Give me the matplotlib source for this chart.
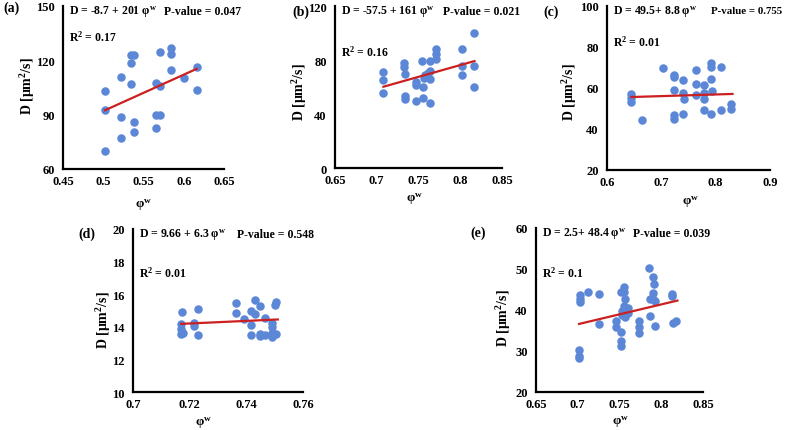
import matplotlib
matplotlib.use('Agg')
import matplotlib.pyplot as plt

plt.rcParams['font.family'] = ['Liberation Serif', 'DejaVu Serif']
plt.rcParams['font.weight'] = 'bold'
plt.rcParams['mathtext.fontset'] = 'custom'
plt.rcParams['mathtext.bf'] = 'Liberation Serif:bold'
plt.rcParams['mathtext.rm'] = 'Liberation Serif:bold'
plt.rcParams['mathtext.it'] = 'Liberation Serif:bold'
plt.rcParams['mathtext.default'] = 'bf'

# ---- data ----
# (a)
a_x = [0.502, 0.502, 0.502, 0.522, 0.522, 0.522, 0.534, 0.538, 0.534, 0.534,
       0.538, 0.538, 0.570, 0.566, 0.571, 0.566, 0.570, 0.566, 0.584, 0.584,
       0.584, 0.600, 0.616, 0.616]
a_y = [102.8, 92.8, 70.0, 110.7, 88.8, 77.0, 122.8, 122.8, 118.7, 106.8,
       85.7, 80.3, 124.6, 107.7, 105.9, 89.9, 89.7, 82.5, 126.7, 123.5,
       114.7, 110.0, 116.2, 103.7]
a_trend_x = [0.502, 0.616]
a_trend_y = [92.4, 115.3]

# (b)
b_x = [0.707, 0.707, 0.707, 0.733, 0.733, 0.734, 0.734, 0.734, 0.747, 0.747,
       0.747, 0.754, 0.755, 0.755, 0.757, 0.758, 0.764, 0.764, 0.764, 0.764,
       0.771, 0.771, 0.771, 0.802, 0.802, 0.802, 0.816, 0.816, 0.816, 0.761]
b_y = [71.3, 65.4, 55.3, 77.5, 74.5, 69.6, 53.6, 51.2, 49.4, 63.4,
       61.5, 79.4, 59.8, 51.6, 66.4, 68.9, 79.4, 72.0, 65.9, 48.2,
       88.0, 84.3, 80.7, 88.0, 75.7, 68.9, 99.8, 75.7, 59.8, 70.5]
b_trend_x = [0.708, 0.817]
b_trend_y = [60.2, 79.2]

# (c)
c_x = [0.645, 0.645, 0.645, 0.665, 0.703, 0.723, 0.723, 0.724, 0.723, 0.723,
       0.739, 0.739, 0.742, 0.740, 0.764, 0.764, 0.764, 0.778, 0.779, 0.778,
       0.778, 0.791, 0.792, 0.791, 0.793, 0.791, 0.810, 0.810, 0.828, 0.828]
c_y = [57.2, 55.3, 53.2, 44.4, 69.9, 66.2, 65.2, 58.9, 46.8, 45.0,
       63.9, 57.7, 54.8, 47.5, 68.8, 61.8, 56.4, 57.4, 61.3, 54.8,
       49.1, 72.0, 70.1, 64.2, 58.4, 47.2, 70.1, 49.3, 52.0, 49.6]
c_trend_x = [0.645, 0.831]
c_trend_y = [55.6, 57.1]

# (d)
d_x = [0.7173, 0.7168, 0.7170, 0.7170, 0.7176, 0.7214, 0.7214, 0.7228, 0.7229, 0.7364,
       0.7364, 0.7390, 0.7418, 0.7418, 0.7418, 0.7432, 0.7432, 0.7448, 0.7448, 0.7448,
       0.7465, 0.7465, 0.7491, 0.7491, 0.7491, 0.7491, 0.7505, 0.7500, 0.7506]
d_y = [14.92, 14.16, 13.85, 13.55, 13.65, 14.26, 14.06, 15.08, 13.48, 15.43,
       14.84, 14.47, 14.98, 14.10, 13.52, 15.63, 14.78, 15.29, 13.55, 13.45,
       14.51, 13.48, 14.26, 13.96, 13.65, 13.36, 13.55, 15.35, 15.53]
d_trend_x = [0.717, 0.7511]
d_trend_y = [14.18, 14.45]

# (e)
e_x = [0.7016, 0.7016, 0.702, 0.703, 0.703, 0.703, 0.712, 0.726, 0.726, 0.746,
       0.746, 0.752, 0.752, 0.752, 0.752, 0.755, 0.755, 0.753, 0.753, 0.755,
       0.756, 0.758, 0.760, 0.760, 0.756, 0.773, 0.773, 0.773, 0.785, 0.786,
       0.786, 0.790, 0.791, 0.790, 0.790, 0.793, 0.792, 0.813, 0.813, 0.814,
       0.818]
e_y = [30.3, 28.8, 28.2, 43.7, 42.7, 41.9, 44.3, 43.8, 36.6, 37.4,
       35.8, 34.7, 32.5, 31.3, 44.5, 45.6, 44.3, 39.8, 38.8, 41.0,
       42.7, 40.2, 40.6, 39.3, 38.2, 37.2, 35.8, 34.4, 50.2, 38.6,
       42.7, 48.0, 46.4, 44.2, 42.7, 42.3, 36.0, 43.9, 43.4, 36.9,
       37.2]
e_trend_x = [0.7016, 0.8194]
e_trend_y = [36.6, 42.3]

panels = [
    # label, x, y, trend x, trend y, xticks, yticks, equation, p, r2, box (l, r, t, b px)
    ('(a)', a_x, a_y, a_trend_x, a_trend_y, [0.45, 0.5, 0.55, 0.6, 0.65], [60, 90, 120, 150],
     'D = -8.7 + 201 φ$^{w}$', 'P-value = 0.047', 'R$^{2}$ = 0.17', (63, 224, 7, 170)),
    ('(b)', b_x, b_y, b_trend_x, b_trend_y, [0.65, 0.7, 0.75, 0.8, 0.85], [0, 40, 80, 120],
     'D = -57.5 + 161 φ$^{w}$', 'P-value = 0.021', 'R$^{2}$ = 0.16', (335, 502, 7, 169)),
    ('(c)', c_x, c_y, c_trend_x, c_trend_y, [0.6, 0.7, 0.8, 0.9], [20, 40, 60, 80, 100],
     'D = 49.5+ 8.8 φ$^{w}$', 'P-value = 0.755', 'R$^{2}$ = 0.01', (607, 770, 7, 171)),
    ('(d)', d_x, d_y, d_trend_x, d_trend_y, [0.7, 0.72, 0.74, 0.76], [10, 12, 14, 16, 18, 20],
     'D = 9.66 + 6.3 φ$^{w}$', 'P-value = 0.548', 'R$^{2}$ = 0.01', (133, 303, 230, 393)),
    ('(e)', e_x, e_y, e_trend_x, e_trend_y, [0.65, 0.7, 0.75, 0.8, 0.85], [20, 30, 40, 50, 60],
     'D = 2.5+ 48.4 φ$^{w}$', 'P-value = 0.039', 'R$^{2}$ = 0.1', (536, 703, 229, 393)),
]

# text placement in figure pixels
p_off = [101, 108, 104, 104, 97]          # p-value x, from axes left
p_fs = [8.5, 8.5, 7.8, 8.5, 8.5]
r2_off = [30, 45, 35, 43, 44]             # r2 y, from axes top
lab_xy = [(3, 8), (292, 12), (543, 12), (78, 234), (470, 233)]
ylab_xy = [(28, 86), (300, 92), (570, 92), (104, 320), (504, 318)]
xlab_xy = [(143, 208), (414, 202), (690, 205), (203, 426), (620, 425)]   # baseline

W, H = 787, 431
fig = plt.figure(figsize=(W / 100, H / 100), dpi=100)


def px(x, y):
    return x / W, 1 - y / H


for i, (lab, x, y, tx, ty, xt, yt, eq, pv, r2, box) in enumerate(panels):
    l, r, t, b = box
    ax = fig.add_axes([l / W, 1 - b / H, (r - l) / W, (b - t) / H])
    ax.scatter(x, y, s=26, color='#5b87d6', zorder=2, clip_on=False)
    ax.plot(tx, ty, color='#cc1f1f', lw=1.6, zorder=3)
    ax.set_xlim(xt[0], xt[-1])
    ax.set_ylim(yt[0], yt[-1])
    ax.set_xticks(xt)
    ax.set_yticks(yt)
    ax.set_xticklabels([('%g' % v) for v in xt])
    ax.tick_params(length=0, labelsize=9)
    ax.tick_params(axis='x', pad=4)
    ax.tick_params(axis='y', pad=6)
    for s in ['top', 'right']:
        ax.spines[s].set_visible(False)
    for s in ['left', 'bottom']:
        ax.spines[s].set_linewidth(1.6)
        ax.spines[s].set_color('black')

    fig.text(*px(*xlab_xy[i]), 'φ$^{w}$', fontsize=9.5, fontweight='bold',
             ha='center', va='baseline')
    fig.text(*px(*ylab_xy[i]), 'D [μm$^{2}$/s]', fontsize=10, fontweight='bold',
             ha='center', va='center', rotation=90)

    fig.text(*px(l + 6, t + 5), eq, fontsize=8.5, fontweight='bold', va='center', ha='left')
    fig.text(*px(l + p_off[i], t + 5), pv, fontsize=p_fs[i], fontweight='bold',
             va='center', ha='left')
    fig.text(*px(l + 6, t + r2_off[i]), r2, fontsize=8.5, fontweight='bold',
             va='center', ha='left')
    fig.text(*px(*lab_xy[i]), lab, fontsize=10, fontweight='bold', va='center', ha='left')

fig.savefig('out.png', dpi=100)
